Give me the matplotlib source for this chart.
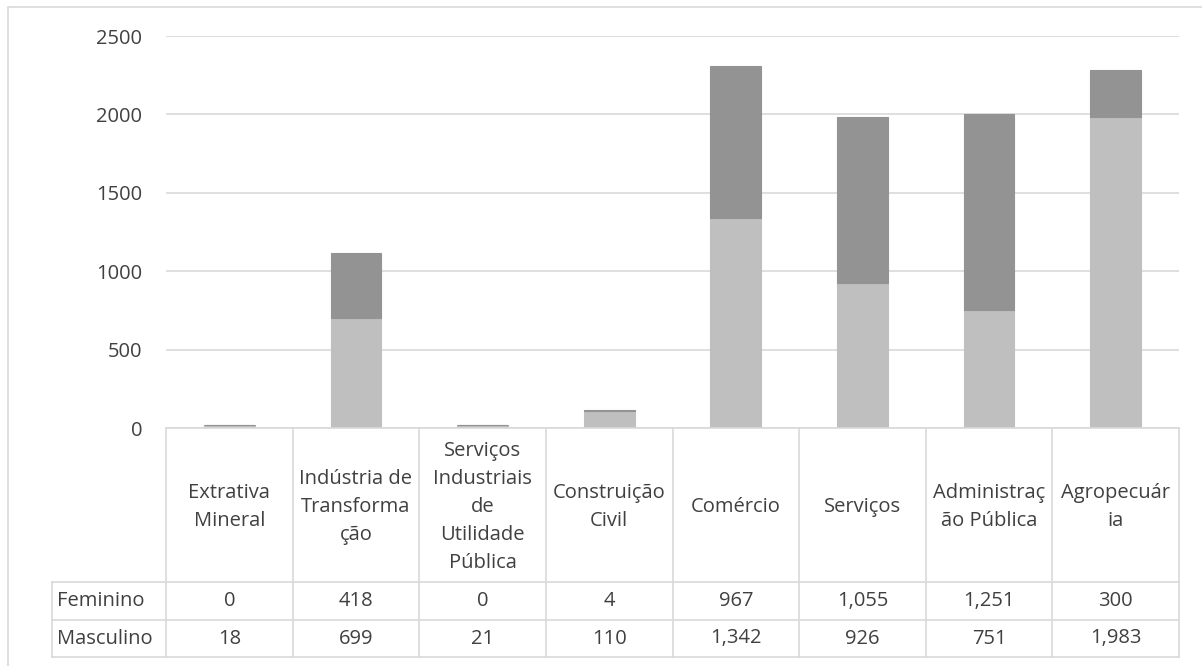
import matplotlib
matplotlib.use("Agg")
import matplotlib.pyplot as plt
from matplotlib.lines import Line2D
from matplotlib.patches import Rectangle
from matplotlib.transforms import blended_transform_factory

categories = [
    "Extrativa\nMineral",
    "Indústria de\nTransforma\nção",
    "Serviços\nIndustriais\nde\nUtilidade\nPública",
    "Construição\nCivil",
    "Comércio",
    "Serviços",
    "Administraç\não Pública",
    "Agropecuár\nia",
]
feminino = [0, 418, 0, 4, 967, 1055, 1251, 300]
masculino = [18, 699, 21, 110, 1342, 926, 751, 1983]
series_names = ["Feminino", "Masculino"]
y_ticks = [0, 500, 1000, 1500, 2000, 2500]

W, H = 1202, 666
TEXT = "#404040"
GRID = "#D9D9D9"
LIGHT = "#BFBFBF"
DARK = "#939393"
FS = 14.5

plt.rcParams["font.family"] = ["Open Sans", "DejaVu Sans"]

fig = plt.figure(figsize=(W / 100, H / 100), dpi=100)


def fy(py):
    return 1 - py / H


# plot area in pixels
left, right, top, bottom = 166, 1179, 36, 428
ax = fig.add_axes([left / W, fy(bottom), (right - left) / W, (bottom - top) / H])

x = list(range(len(categories)))
ax.bar(x, masculino, width=0.4, color=LIGHT, edgecolor=LIGHT, linewidth=0.8, zorder=3)
ax.bar(x, feminino, width=0.4, bottom=masculino, color=DARK, edgecolor=DARK,
       linewidth=0.8, zorder=3)

ax.set_xlim(-0.5, len(categories) - 0.5)
ax.set_ylim(0, 2500)
ax.set_yticks(y_ticks)
ax.set_yticklabels([str(t) for t in y_ticks])
ax.set_xticks([])
ax.tick_params(axis="y", length=0, pad=17, labelsize=FS, labelcolor=TEXT)
ax.yaxis.grid(True, color=GRID, linewidth=1.2, zorder=0)
for s in ax.spines.values():
    s.set_visible(False)

# outer chart frame (right and bottom edges fall outside the canvas)
fig.patches.append(Rectangle((8 / W, fy(668)), (1204 - 8) / W, (668 - 7) / H,
                             transform=fig.transFigure, fill=False,
                             edgecolor=GRID, linewidth=1.2))

# data table below the axis
tr = blended_transform_factory(ax.transData, fig.transFigure)
row_y = [428, 582, 620, 657]
n = len(categories)
lw = 1.2
fig.add_artist(Line2D([-0.5, n - 0.5], [fy(row_y[0])] * 2, transform=tr,
                      color=GRID, lw=lw))
label_x0 = 52 / W
for py in row_y[1:]:
    fig.add_artist(Line2D([label_x0, right / W], [fy(py)] * 2,
                          transform=fig.transFigure, color=GRID, lw=lw))
fig.add_artist(Line2D([label_x0, label_x0], [fy(row_y[1]), fy(row_y[3])],
                      transform=fig.transFigure, color=GRID, lw=lw))
for i in range(n + 1):
    fig.add_artist(Line2D([i - 0.5, i - 0.5], [fy(row_y[0]), fy(row_y[3])],
                          transform=tr, color=GRID, lw=lw))

for i, cat in enumerate(categories):
    fig.text(i, fy((row_y[0] + row_y[1]) / 2 + 2), cat, transform=tr,
             ha="center", va="center", fontsize=FS, color=TEXT, linespacing=1.52)

rows = [feminino, masculino]
for r, (name, vals) in enumerate(zip(series_names, rows)):
    cy = fy((row_y[r + 1] + row_y[r + 2]) / 2)
    fig.text(57 / W, cy, name, ha="left", va="center", fontsize=FS, color=TEXT)
    for i, v in enumerate(vals):
        fig.text(i, cy, f"{v:,}", transform=tr, ha="center", va="center",
                 fontsize=FS, color=TEXT)

fig.savefig("out.png", dpi=100)
